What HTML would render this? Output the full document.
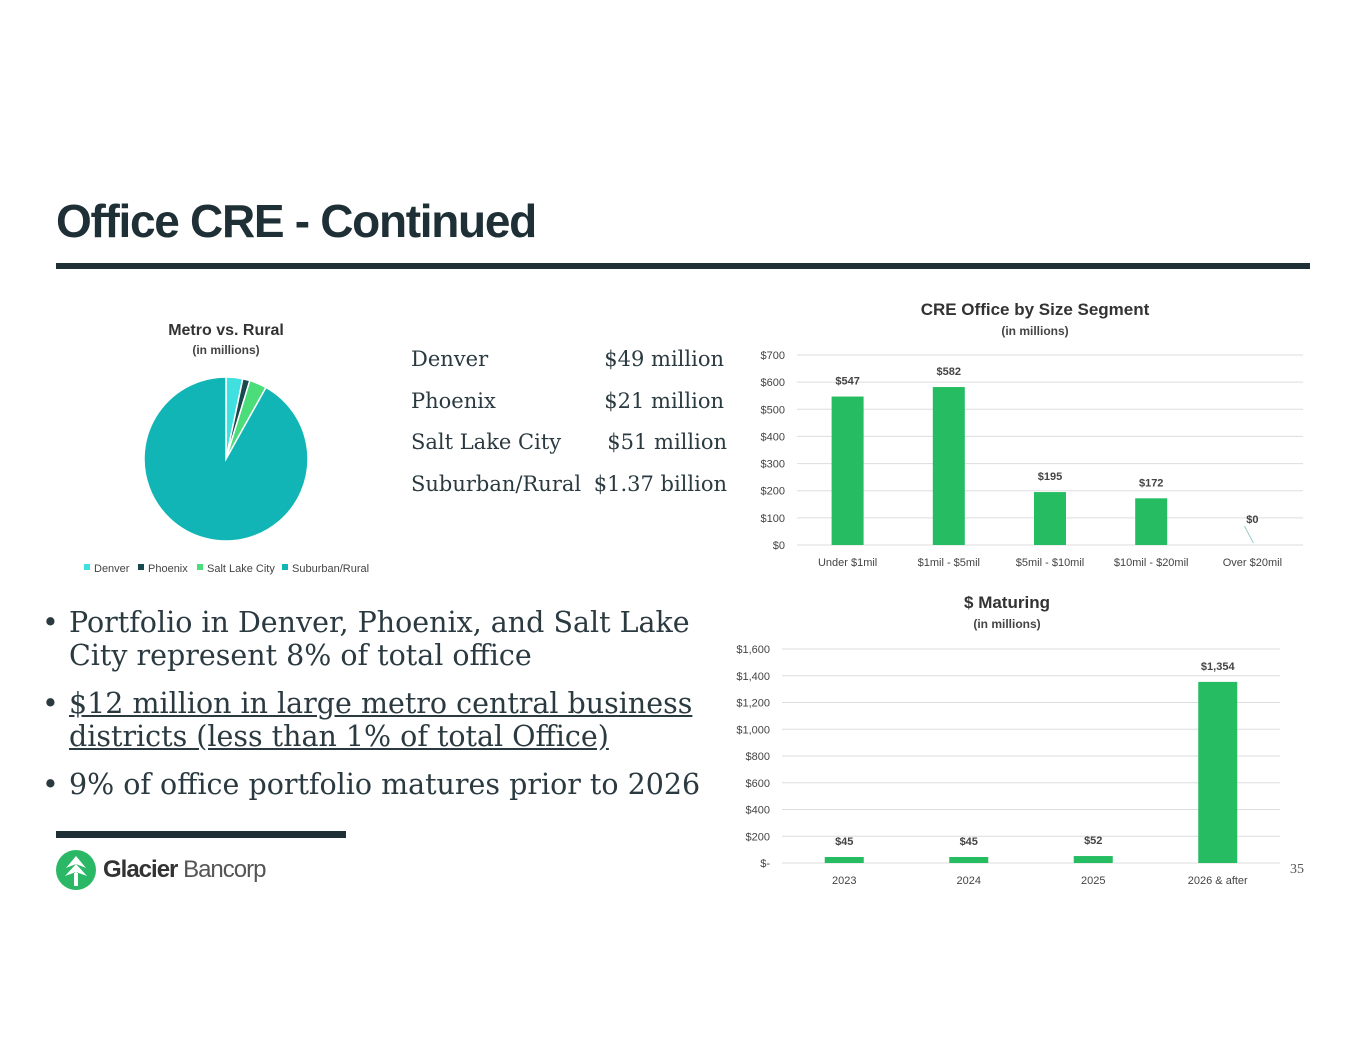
<!DOCTYPE html>
<html><head><meta charset="utf-8"><style>
body{margin:0;width:1365px;height:1055px;background:#fff;position:relative;overflow:hidden;font-family:"Liberation Sans",sans-serif}
.abs{position:absolute}
.serif{font-family:"DejaVu Serif","Liberation Serif",serif;color:#2a3a40}
.b{display:flex}.b>span:first-child{width:27px;flex:none}
</style></head><body>
<div class="abs" style="left:56px;top:194px;font-size:46px;font-weight:bold;color:#1e2f36;letter-spacing:-1.3px">Office CRE - Continued</div>
<div class="abs" style="left:56px;top:263px;width:1254px;height:6px;background:#1e2f36"></div>

<div class="abs serif" style="left:411px;top:339px;font-size:21px;line-height:41.5px">
<div style="position:relative;width:316px">Denver<span style="position:absolute;right:3px">$49 million</span></div>
<div style="position:relative;width:316px">Phoenix<span style="position:absolute;right:3px">$21 million</span></div>
<div style="position:relative;width:316px">Salt Lake City<span style="position:absolute;right:0">$51 million</span></div>
<div style="position:relative;width:316px">Suburban/Rural<span style="position:absolute;right:0">$1.37 billion</span></div>
</div>

<div class="abs serif" style="left:42px;top:606px;font-size:28.5px;line-height:33px;width:670px">
<div class="b"><span>•</span><span>Portfolio in Denver, Phoenix, and Salt Lake City represent 8% of total office</span></div>
<div class="b" style="margin-top:15px"><span>•</span><span style="text-decoration:underline">$12 million in large metro central business districts (less than 1% of total Office)</span></div>
<div class="b" style="margin-top:15px"><span>•</span><span style="white-space:nowrap">9% of office portfolio matures prior to 2026</span></div>
</div>
<div class="abs" style="left:56px;top:831px;width:290px;height:7px;background:#1e2f36"></div>
<div class="abs" style="left:56px;top:850px;display:flex;align-items:center">
<svg width="40" height="40"><circle cx="20" cy="20" r="20" fill="#2bb866"/><path d="M20 6 L10 18 L20 14 L30 18 Z M20 14 L9 26 L20 22 L31 26Z M18 22 h4 v14 h-4z" fill="#fff"/></svg>
<span style="margin-left:7px;font-size:24px;color:#333;letter-spacing:-1px"><b>Glacier</b> <span style="font-weight:300;color:#555">Bancorp</span></span></div>
<div class="abs" style="left:1290px;top:862px;font-size:14px;color:#555;font-family:'Liberation Serif',serif">35</div>

<svg class="abs" style="left:0;top:0" width="1365" height="1055" id="charts"></svg>
<script>
const pieLabels=["Denver","Phoenix","Salt Lake City","Suburban/Rural"];
const pieValues=[49,21,51,1370];
const pieColors=["#40e0e0","#17494f","#4cdd7b","#12b5b5"];
const sizeCats=["Under $1mil","$1mil - $5mil","$5mil - $10mil","$10mil - $20mil","Over $20mil"];
const sizeVals=[547,582,195,172,0];
const sizeTicks=[0,100,200,300,400,500,600,700];
const matCats=["2023","2024","2025","2026 & after"];
const matVals=[45,45,52,1354];
const matTicks=[0,200,400,600,800,1000,1200,1400,1600];
const NS="http://www.w3.org/2000/svg",svg=document.getElementById('charts');
function mk(t,a,txt){const e=document.createElementNS(NS,t);for(const k in a)e.setAttribute(k,a[k]);if(txt!==undefined)e.textContent=txt;svg.appendChild(e);return e;}
const F='"Liberation Sans",sans-serif';
let t=mk('text',{x:226,y:335,'text-anchor':'middle','font-size':16,'font-weight':'bold',fill:'#333','font-family':F},'Metro vs. Rural');

t=mk('text',{x:226,y:354,'text-anchor':'middle','font-size':12,'font-weight':'bold',fill:'#444','font-family':F},'(in millions)');

const cx=226,cy=459,r=82,tot=pieValues.reduce((a,b)=>a+b,0);let ang=0;
pieValues.forEach((v,i)=>{const a0=ang,a1=ang+v/tot*2*Math.PI;ang=a1;
const x0=cx+r*Math.sin(a0),y0=cy-r*Math.cos(a0),x1=cx+r*Math.sin(a1),y1=cy-r*Math.cos(a1);
const p=mk('path',{d:`M${cx},${cy}L${x0},${y0}A${r},${r} 0 ${a1-a0>Math.PI?1:0} 1 ${x1},${y1}Z`,fill:pieColors[i],stroke:'#fff','stroke-width':1.5});
});
let lx=[84,138,197,282];
pieLabels.forEach((l,i)=>{const s=mk('rect',{x:lx[i],y:564,width:6,height:6,fill:pieColors[i]});

const tx=mk('text',{x:lx[i]+10,y:572,'font-size':11,fill:'#444','font-family':F},l);
});
function bars(o){
 const y=v=>o.y0-(v/o.max)*(o.y0-o.y1);
 let tt=mk('text',{x:o.tx,y:o.ty,'text-anchor':'middle','font-size':17,'font-weight':'bold',fill:'#333','font-family':F},o.title);
 
 tt=mk('text',{x:o.tx,y:o.ty+20,'text-anchor':'middle','font-size':12,'font-weight':'bold',fill:'#444','font-family':F},'(in millions)');
 
 o.ticks.forEach(v=>{const g=mk('line',{x1:o.x0,x2:o.x1,y1:y(v),y2:y(v),stroke:'#ddd'});
 
 const l=mk('text',{x:o.x0-12,y:y(v)+4,'text-anchor':'end','font-size':11,fill:'#444','font-family':F},o.fmt(v));
 });
 const step=(o.x1-o.x0)/o.cats.length;
 o.cats.forEach((c,i)=>{const xc=o.x0+step*(i+.5),v=o.vals[i];
 const b=mk('rect',{x:xc-o.bw/2,y:y(v),width:o.bw,height:o.y0-y(v),fill:'#25bc62'});
 
 const l=mk('text',{x:xc,y:o.y0+21,'text-anchor':'middle','font-size':11,fill:'#444','font-family':F},c);
 
 let ly=y(v)-12;if(v===0){ly=y(v)-22;const ln=mk('line',{x1:xc-8,y1:y(v)-19,x2:xc+1,y2:y(v)-2,stroke:'#9cc'});}
 const d=mk('text',{x:xc,y:ly,'text-anchor':'middle','font-size':11,'font-weight':'bold',fill:'#444','font-family':F},'$'+v.toLocaleString('en-US'));
 });
}
bars({id:'size-chart',title:'CRE Office by Size Segment',tx:1035,ty:315,x0:797,x1:1303,y0:545,y1:355,max:700,cats:sizeCats,vals:sizeVals,ticks:sizeTicks,bw:32,fmt:v=>'$'+v});
bars({id:'maturing-chart',title:'$ Maturing',tx:1007,ty:608,x0:782,x1:1280,y0:863,y1:649,max:1600,cats:matCats,vals:matVals,ticks:matTicks,bw:39,fmt:v=>v===0?'$-':'$'+v.toLocaleString('en-US')});
</script>
</body></html>
